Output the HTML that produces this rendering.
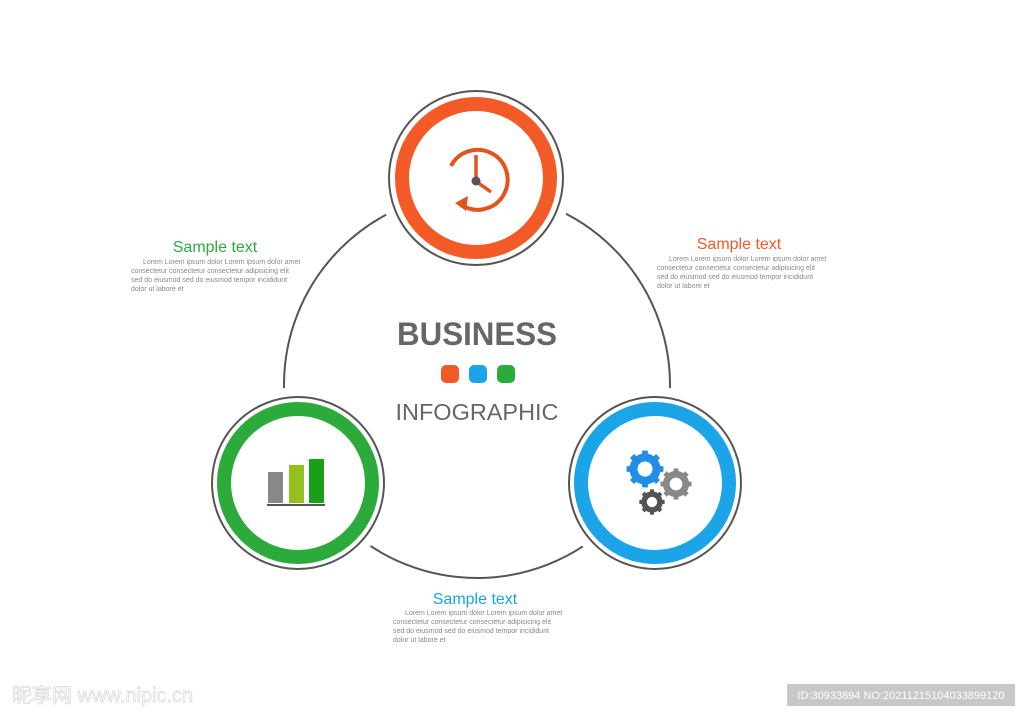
<!DOCTYPE html>
<html><head><meta charset="utf-8"><style>
body{margin:0;background:#fff;width:1024px;height:714px;overflow:hidden;font-family:"Liberation Sans",sans-serif}
svg{position:absolute;left:0;top:0}
</style></head><body>
<svg width="1024" height="714" viewBox="0 0 1024 714">
<defs>
<g id="gear"><circle r="0.72" fill="none" stroke="currentColor" stroke-width="0.5"/>
<g fill="currentColor">
<rect x="-0.18" y="-1.15" width="0.36" height="0.4"/><rect x="-0.18" y="-1.15" width="0.36" height="0.4" transform="rotate(45)"/><rect x="-0.18" y="-1.15" width="0.36" height="0.4" transform="rotate(90)"/><rect x="-0.18" y="-1.15" width="0.36" height="0.4" transform="rotate(135)"/><rect x="-0.18" y="-1.15" width="0.36" height="0.4" transform="rotate(180)"/><rect x="-0.18" y="-1.15" width="0.36" height="0.4" transform="rotate(225)"/><rect x="-0.18" y="-1.15" width="0.36" height="0.4" transform="rotate(270)"/><rect x="-0.18" y="-1.15" width="0.36" height="0.4" transform="rotate(315)"/>
</g></g>
</defs>
<circle cx="477" cy="385" r="193" fill="none" stroke="#555" stroke-width="2"/>
<circle cx="476" cy="178" r="97" fill="#fff"/>
<circle cx="298" cy="483" r="96" fill="#fff"/>
<circle cx="655" cy="483" r="96" fill="#fff"/>
<!-- top -->
<circle cx="476" cy="178" r="87" fill="#fff" stroke="#555" stroke-width="2"/>
<circle cx="476" cy="178" r="74" fill="#fff" stroke="#f25a27" stroke-width="14"/>
<path d="M451 166 A30 30 0 1 1 465 207" fill="none" stroke="#e2531d" stroke-width="4"/>
<polygon points="455,203 468,196 466,211" fill="#e2531d"/>
<line x1="476" y1="155" x2="476" y2="178" stroke="#e2531d" stroke-width="3.5"/>
<line x1="477" y1="182" x2="491" y2="192" stroke="#e2531d" stroke-width="3.5"/>
<circle cx="476" cy="181" r="4.5" fill="#555"/>
<!-- left -->
<circle cx="298" cy="483" r="86" fill="#fff" stroke="#555" stroke-width="2"/>
<circle cx="298" cy="483" r="74" fill="#fff" stroke="#2cab3c" stroke-width="14"/>
<rect x="268" y="472" width="15" height="31" fill="#888"/>
<rect x="289" y="465" width="15" height="38" fill="#95c11f"/>
<rect x="309" y="459" width="15" height="44" fill="#18a118"/>
<rect x="267" y="504" width="58" height="2" fill="#555"/>
<!-- right -->
<circle cx="655" cy="483" r="86" fill="#fff" stroke="#555" stroke-width="2"/>
<circle cx="655" cy="483" r="74" fill="#fff" stroke="#1ba5e8" stroke-width="14"/>
<use href="#gear" transform="translate(645,469) scale(16)" style="color:#1e8ee6"/>
<use href="#gear" transform="translate(676,484) scale(13.5)" style="color:#888"/>
<use href="#gear" transform="translate(652,502) scale(11)" style="color:#555"/>
<!-- center -->
<text x="477" y="345" text-anchor="middle" font-size="32" font-weight="bold" fill="#666" font-family="Liberation Sans" textLength="160" lengthAdjust="spacingAndGlyphs">BUSINESS</text>
<rect x="441" y="365" width="18" height="18" rx="5" fill="#f25a27"/>
<rect x="469" y="365" width="18" height="18" rx="5" fill="#1ba5e8"/>
<rect x="497" y="365" width="18" height="18" rx="5" fill="#2cab3c"/>
<text x="477" y="420" text-anchor="middle" font-size="23" fill="#666" font-family="Liberation Sans" textLength="163" lengthAdjust="spacingAndGlyphs">INFOGRAPHIC</text>
<!-- text blocks -->
<g font-family="Liberation Sans" font-size="7" fill="#888">
<text x="215" y="252" text-anchor="middle" font-size="16" fill="#2cab3c">Sample text</text>
<text x="143" y="264">Lorem  Lorem ipsum dolor Lorem ipsum dolor  amet</text>
<text x="131" y="273">consectetur consectetur consectetur adipisicing elit</text>
<text x="131" y="282">sed  do  eiusmod sed  do  eiusmod tempor incididunt</text>
<text x="131" y="291">dolor  ut labore et</text>
<text x="739" y="249" text-anchor="middle" font-size="16" fill="#f25a27">Sample text</text>
<text x="669" y="261">Lorem  Lorem ipsum dolor Lorem ipsum dolor  amet</text>
<text x="657" y="270">consectetur consectetur consectetur adipisicing elit</text>
<text x="657" y="279">sed  do  eiusmod sed  do  eiusmod tempor incididunt</text>
<text x="657" y="288">dolor  ut labore et</text>
<text x="475" y="604" text-anchor="middle" font-size="16" fill="#1ba5e8">Sample text</text>
<text x="405" y="615">Lorem  Lorem ipsum dolor Lorem ipsum dolor  amet</text>
<text x="393" y="624">consectetur consectetur consectetur adipisicing elit</text>
<text x="393" y="633">sed  do  eiusmod sed  do  eiusmod tempor incididunt</text>
<text x="393" y="642">dolor  ut labore et</text>
</g>
<!-- watermark -->
<text x="12" y="702" font-size="20" fill="#fff" stroke="#d8d8d8" stroke-width="0.7" font-family="Liberation Sans, Noto Sans CJK SC, sans-serif">昵享网 www.nipic.cn</text>
<rect x="787" y="684" width="228" height="22" fill="#c8c8c8"/>
<text x="901" y="699" text-anchor="middle" font-size="11" fill="#fff" font-family="Liberation Sans">ID:30933894 NO:20211215104033899120</text>
</svg>
</body></html>
